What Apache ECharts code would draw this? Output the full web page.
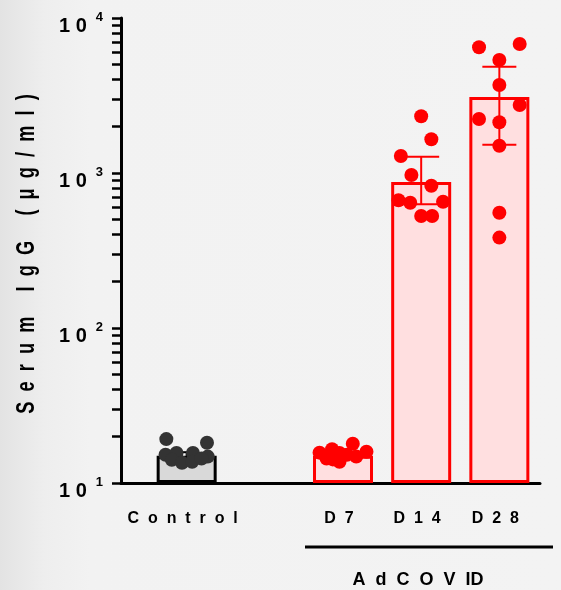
<!DOCTYPE html>
<html>
<head>
<meta charset="utf-8">
<script src="https://cdn.jsdelivr.net/npm/echarts@6/dist/echarts.min.js"></script>
<style>
  html, body { margin: 0; padding: 0; }
  body {
    width: 561px; height: 590px;
    background: linear-gradient(to right, #e3e3e3 0%, #eeeeee 8%, #f2f2f2 16%, #f3f3f3 100%);
  }
  #chart { width: 561px; height: 590px; }
</style>
</head>
<body>
<div id="chart"></div>
<script>
// group positions on the x axis (Control, gap, D7, D14, D28)
const groupX = [1, 3, 4, 5];
const groupLabels = ["C  o  n  t  r  o  l", "D  7", "D  1  4", "D  2  8"];
const barMeans = [15, 15, 875, 3090];
const errLow = [14.4, 14.6, 628, 1523];
const errHigh = [15.8, 15.6, 1274, 4850];

// points: [offset from group centre, value]
const ctrlPoints = [
  [-0.26, 19.2], [0.26, 18.2], [-0.27, 15.2], [-0.13, 15.6], [0.08, 15.6],
  [0.27, 14.8], [-0.19, 14.1], [-0.06, 13.5], [0.07, 13.7], [0.19, 14.4]
];
const d7Points = [
  [-0.3, 15.7], [-0.14, 16.5], [0.125, 17.9], [0.3, 15.9], [-0.045, 15.6],
  [-0.21, 14.4], [-0.045, 13.7], [0.17, 14.8], [0.05, 15.2], [-0.13, 14.2]
];
const d14Points = [
  [0, 2323], [0.13, 1650], [-0.26, 1288], [-0.125, 970], [0.13, 828],
  [-0.29, 667], [-0.14, 643], [0.28, 653], [0, 528], [0.14, 528]
];
const d28Points = [
  [-0.26, 6470], [0.26, 6795], [0, 5360], [0, 3695], [0.26, 2745],
  [-0.26, 2230], [0, 2125], [0, 1500], [0, 554], [0, 383]
];
const yTickValues = [];
[10, 100, 1000].forEach(function (d) {
  for (let i = 1; i <= 9; i++) yTickValues.push(d * i);
});
yTickValues.push(10000);
const yLabelValues = [10, 100, 1000, 10000];
const yTitle = "S  e  r  u  m     I  g  G     (  μ  g  /  m  l  )";
const groupTitle = "A  d  C  O  V  ID";

const font = "'Liberation Sans', Arial, sans-serif";
const chart = echarts.init(document.getElementById("chart"));

function shift(points, gx) {
  return points.map(function (p) { return [gx + p[0], p[1]]; });
}

const barColors = [
  { color: "#d9d9d9", borderColor: "#000000" },
  { color: "#ffdfe0", borderColor: "#ff0000" },
  { color: "#ffdfe0", borderColor: "#ff0000" },
  { color: "#ffdfe0", borderColor: "#ff0000" }
];
const errColors = ["#000000", "#ff0000", "#ff0000", "#ff0000"];
const capWidths = [20, 20, 36, 34];

chart.setOption({
  animation: false,
  backgroundColor: "transparent",
  grid: { left: 121, right: 21, top: 18, bottom: 107 },
  xAxis: {
    type: "value",
    min: 0.16,
    max: 5.52,
    splitLine: { show: false },
    axisLine: { show: true, onZero: false, lineStyle: { color: "#000", width: 3 } },
    axisTick: { show: false },
    axisLabel: {
      customValues: groupX,
      formatter: function (v) {
        const i = groupX.indexOf(Math.round(v));
        return i >= 0 ? groupLabels[i] : "";
      },
      margin: 28,
      padding: [0, 8, 0, 0],
      color: "#000",
      fontSize: 16,
      fontWeight: "bold",
      fontFamily: font
    }
  },
  yAxis: {
    type: "log",
    logBase: 10,
    min: 10,
    max: 10000,
    startValue: 10,
    splitLine: { show: false },
    axisLine: { show: true, onZero: false, lineStyle: { color: "#000", width: 3 } },
    axisTick: {
      show: true,
      inside: false,
      length: 9,
      customValues: yTickValues,
      lineStyle: { color: "#000", width: 2.5 }
    },
    minorTick: { show: false },
    axisLabel: {
      customValues: yLabelValues,
      margin: 18,
      padding: [16, 0, 0, 0],
      formatter: function (v) {
        return "{b|1 0}{s|" + Math.round(Math.log10(v)) + "}";
      },
      rich: {
        b: { fontSize: 20, fontWeight: "bold", fontFamily: font, color: "#000", lineHeight: 30 },
        s: { fontSize: 13, fontWeight: "bold", fontFamily: font, color: "#000", lineHeight: 13, verticalAlign: "top", padding: [0, 0, 0, 9] }
      }
    }
  },
  series: [
    {
      type: "bar",
      barWidth: 60,
      z: 1,
      data: groupX.map(function (x, i) {
        return {
          value: [x, barMeans[i]],
          itemStyle: { color: barColors[i].color, borderColor: barColors[i].borderColor, borderWidth: 3 }
        };
      })
    },
    {
      type: "custom",
      z: 2,
      data: groupX.map(function (x, i) { return [x, errLow[i], errHigh[i], i]; }),
      renderItem: function (params, api) {
        const i = api.value(3);
        const lo = api.coord([api.value(0), api.value(1)]);
        const hi = api.coord([api.value(0), api.value(2)]);
        const w = capWidths[i] / 2;
        const style = { stroke: errColors[i], lineWidth: 2 };
        return {
          type: "group",
          children: [
            { type: "line", shape: { x1: lo[0], y1: lo[1], x2: hi[0], y2: hi[1] }, style: style },
            { type: "line", shape: { x1: hi[0] - w, y1: hi[1], x2: hi[0] + w, y2: hi[1] }, style: style },
            { type: "line", shape: { x1: lo[0] - w, y1: lo[1], x2: lo[0] + w, y2: lo[1] }, style: style }
          ]
        };
      }
    },
    {
      type: "scatter",
      z: 3,
      symbolSize: 14,
      itemStyle: { color: "#333333", opacity: 1 },
      data: shift(ctrlPoints, groupX[0])
    },
    {
      type: "scatter",
      z: 3,
      symbolSize: 14,
      itemStyle: { color: "#ff0000", opacity: 1 },
      data: shift(d7Points, groupX[1])
        .concat(shift(d14Points, groupX[2]))
        .concat(shift(d28Points, groupX[3]))
    }
  ],
  graphic: [
    {
      type: "text",
      x: 27,
      y: 254,
      rotation: Math.PI / 2,
      scaleX: 0.7,
      style: {
        text: yTitle,
        fill: "#000",
        font: "bold 26px " + font,
        textAlign: "center",
        textVerticalAlign: "middle"
      }
    },
    {
      type: "line",
      shape: { x1: 305, y1: 547, x2: 553, y2: 547 },
      style: { stroke: "#000", lineWidth: 3 }
    },
    {
      type: "text",
      x: 418,
      y: 580,
      style: {
        text: groupTitle,
        fill: "#000",
        font: "bold 18px " + font,
        textAlign: "center",
        textVerticalAlign: "middle"
      }
    }
  ]
});
</script>
</body>
</html>
